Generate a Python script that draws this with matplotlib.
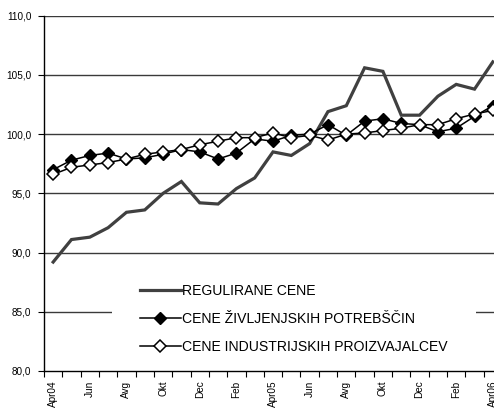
import matplotlib
matplotlib.use('Agg')
import matplotlib.pyplot as plt
import numpy as np

plt.rcParams['font.family'] = ['Liberation Sans', 'DejaVu Sans']

months = ['Apr04', 'Maj', 'Jun', 'Jul', 'Avg', 'Sep', 'Okt', 'Nov', 'Dec', 'Jan',
          'Feb', 'Mar', 'Apr05', 'Maj', 'Jun', 'Jul', 'Avg', 'Sep', 'Okt', 'Nov',
          'Dec', 'Jan', 'Feb', 'Mar', 'Apr06']
regulirane = [89.2, 91.1, 91.3, 92.1, 93.4, 93.6, 95.0, 96.0, 94.2, 94.1,
              95.4, 96.3, 98.5, 98.2, 99.2, 101.9, 102.4, 105.6, 105.3, 101.6,
              101.6, 103.2, 104.2, 103.8, 106.1]
zivljenjske = [97.0, 97.8, 98.2, 98.4, 97.9, 98.0, 98.3, 98.7, 98.5, 97.9,
               98.4, 99.6, 99.4, 99.9, 100.0, 100.8, 99.9, 101.1, 101.3, 100.9,
               100.8, 100.2, 100.5, 101.5, 102.4]
industrijske = [96.6, 97.2, 97.4, 97.6, 97.9, 98.3, 98.5, 98.7, 99.1, 99.4,
                99.7, 99.7, 100.1, 99.7, 99.9, 99.5, 100.0, 100.1, 100.3, 100.5,
                100.8, 100.8, 101.3, 101.7, 102.0]
series_names = ['REGULIRANE CENE', 'CENE ŽIVLJENJSKIH POTREBŠČIN',
                'CENE INDUSTRIJSKIH PROIZVAJALCEV']
y_ticks = [80, 85, 90, 95, 100, 105, 110]
y_tick_labels = ['80,0', '85,0', '90,0', '95,0', '100,0', '105,0', '110,0']

W, H = 494, 412
fig = plt.figure(figsize=(W / 100, H / 100), dpi=100)
ax = fig.add_axes([44 / W, 1 - 371 / H, (502 - 44) / W, (371 - 15.7) / H])

x = np.arange(len(months))
ax.plot(x, regulirane, color='#404040', lw=2.3, solid_joinstyle='miter',
        label=series_names[0], zorder=3)
ax.plot(x, zivljenjske, color='black', lw=1.1, marker='D', markersize=6,
        markerfacecolor='black', markeredgecolor='black', label=series_names[1], zorder=4)
ax.plot(x, industrijske, color='black', lw=1.1, marker='D', markersize=6,
        markerfacecolor='white', markeredgecolor='black', markeredgewidth=1.1,
        label=series_names[2], zorder=5)

ax.set_xlim(-0.5, len(months) - 0.5)
ax.set_ylim(80, 110)
ax.set_yticks(y_ticks)
ax.set_yticklabels(y_tick_labels, fontsize=7.2)
for yv in y_ticks[1:]:
    ax.axhline(yv, color='#3a3a3a', lw=1.0, zorder=1)

ax.set_xticks(np.arange(-0.5, len(months), 1))
ax.set_xticklabels([])
ax.set_xticks(x[::2], minor=True)
ax.set_xticklabels(months[::2], minor=True, rotation=90, fontsize=7.2, va='top', ha='center')
ax.tick_params(axis='x', which='major', length=4, width=0.8, direction='out')
ax.tick_params(axis='x', which='minor', length=0, pad=7)
ax.tick_params(axis='y', length=4, width=0.8, direction='out', pad=5)

for s in ['top', 'right']:
    ax.spines[s].set_visible(False)
for s in ['left', 'bottom']:
    ax.spines[s].set_color('black')
    ax.spines[s].set_linewidth(1.0)
    ax.spines[s].set_zorder(12)
ax.xaxis.set_zorder(12)
ax.yaxis.set_zorder(12)

leg = ax.legend(loc='center', bbox_to_anchor=(294 / W, 1 - 319 / H),
                bbox_transform=fig.transFigure, frameon=True, fontsize=10.1,
                handlelength=2.9, handletextpad=0.1, labelspacing=1.02,
                borderpad=2.0, fancybox=False)
leg.get_frame().set_edgecolor('none')
leg.get_frame().set_facecolor('white')
leg.get_frame().set_alpha(1)
leg.set_zorder(10)

fig.savefig('out.png', dpi=100)
